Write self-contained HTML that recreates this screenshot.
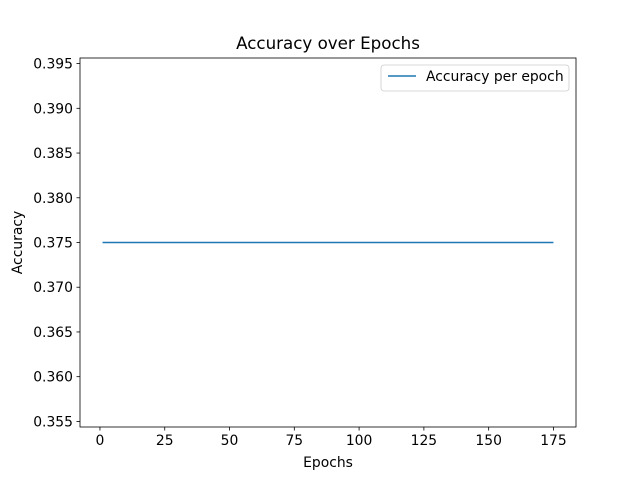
<!DOCTYPE html>
<html><head><meta charset="utf-8"><style>
body{margin:0;background:#fff}
text{font-family:"DejaVu Sans","Liberation Sans",sans-serif;fill:#000}
</style></head><body>
<svg id="chart" width="640" height="480" xmlns="http://www.w3.org/2000/svg">
<rect width="640" height="480" fill="#fff"/>
<text x="328" y="49" text-anchor="middle" font-size="16.7">Accuracy over Epochs</text>
<g id="plot"></g>
<rect x="80" y="58" width="496" height="369" fill="none" stroke="#000" stroke-width="0.8"/>
<text x="328" y="467" text-anchor="middle" font-size="13.9">Epochs</text>
<text x="22" y="242.5" text-anchor="middle" font-size="13.9" transform="rotate(-90 22 242.5)">Accuracy</text>
<g>
<rect x="381" y="65" width="188" height="26" rx="3" fill="#fff" stroke="#ccc" stroke-width="0.8"/>
<line x1="388" y1="76" x2="416" y2="76" stroke="#1f77b4" stroke-width="1.5"/>
<text x="426" y="81" font-size="13.9">Accuracy per epoch</text>
</g>
</svg>
<script>
const epochStart = 1;
const epochEnd = 175;
const accuracyValues = [0.375, 0.375];
const epochs = [1, 175];
const xTicks = [0, 25, 50, 75, 100, 125, 150, 175];
const yTicks = [0.355, 0.360, 0.365, 0.370, 0.375, 0.380, 0.385, 0.390, 0.395];

const X0=80,X1=576,Y0=427,Y1=58;
const xmin=-7.7,xmax=183.7,ymin=0.354375,ymax=0.395625;
const sx=v=>X0+(v-xmin)/(xmax-xmin)*(X1-X0);
const sy=v=>Y0-(v-ymin)/(ymax-ymin)*(Y0-Y1);
const NS="http://www.w3.org/2000/svg";
const g=document.getElementById('plot');
function mk(t,a){const e=document.createElementNS(NS,t);for(const k in a)e.setAttribute(k,a[k]);g.appendChild(e);return e;}
xTicks.forEach(v=>{
  const l=mk('line',{x1:sx(v),x2:sx(v),y1:Y0,y2:Y0+3.5,stroke:'#000','stroke-width':0.8});
  
  
  const t=mk('text',{x:sx(v),y:Y0+18,'text-anchor':'middle','font-size':13.9});
  t.textContent=v;
  
  
});
yTicks.forEach(v=>{
  const l=mk('line',{x1:X0-3.5,x2:X0,y1:sy(v),y2:sy(v),stroke:'#000','stroke-width':0.8});
  
  
  const t=mk('text',{x:X0-7,y:sy(v)+5,'text-anchor':'end','font-size':13.9});
  t.textContent=v.toFixed(3);
  
  
});
const pts=epochs.map((e,i)=>sx(e)+','+sy(accuracyValues[i])).join(' ');
const line=mk('polyline',{points:pts,fill:'none',stroke:'#1f77b4','stroke-width':1.5});


</script>
</body></html>
